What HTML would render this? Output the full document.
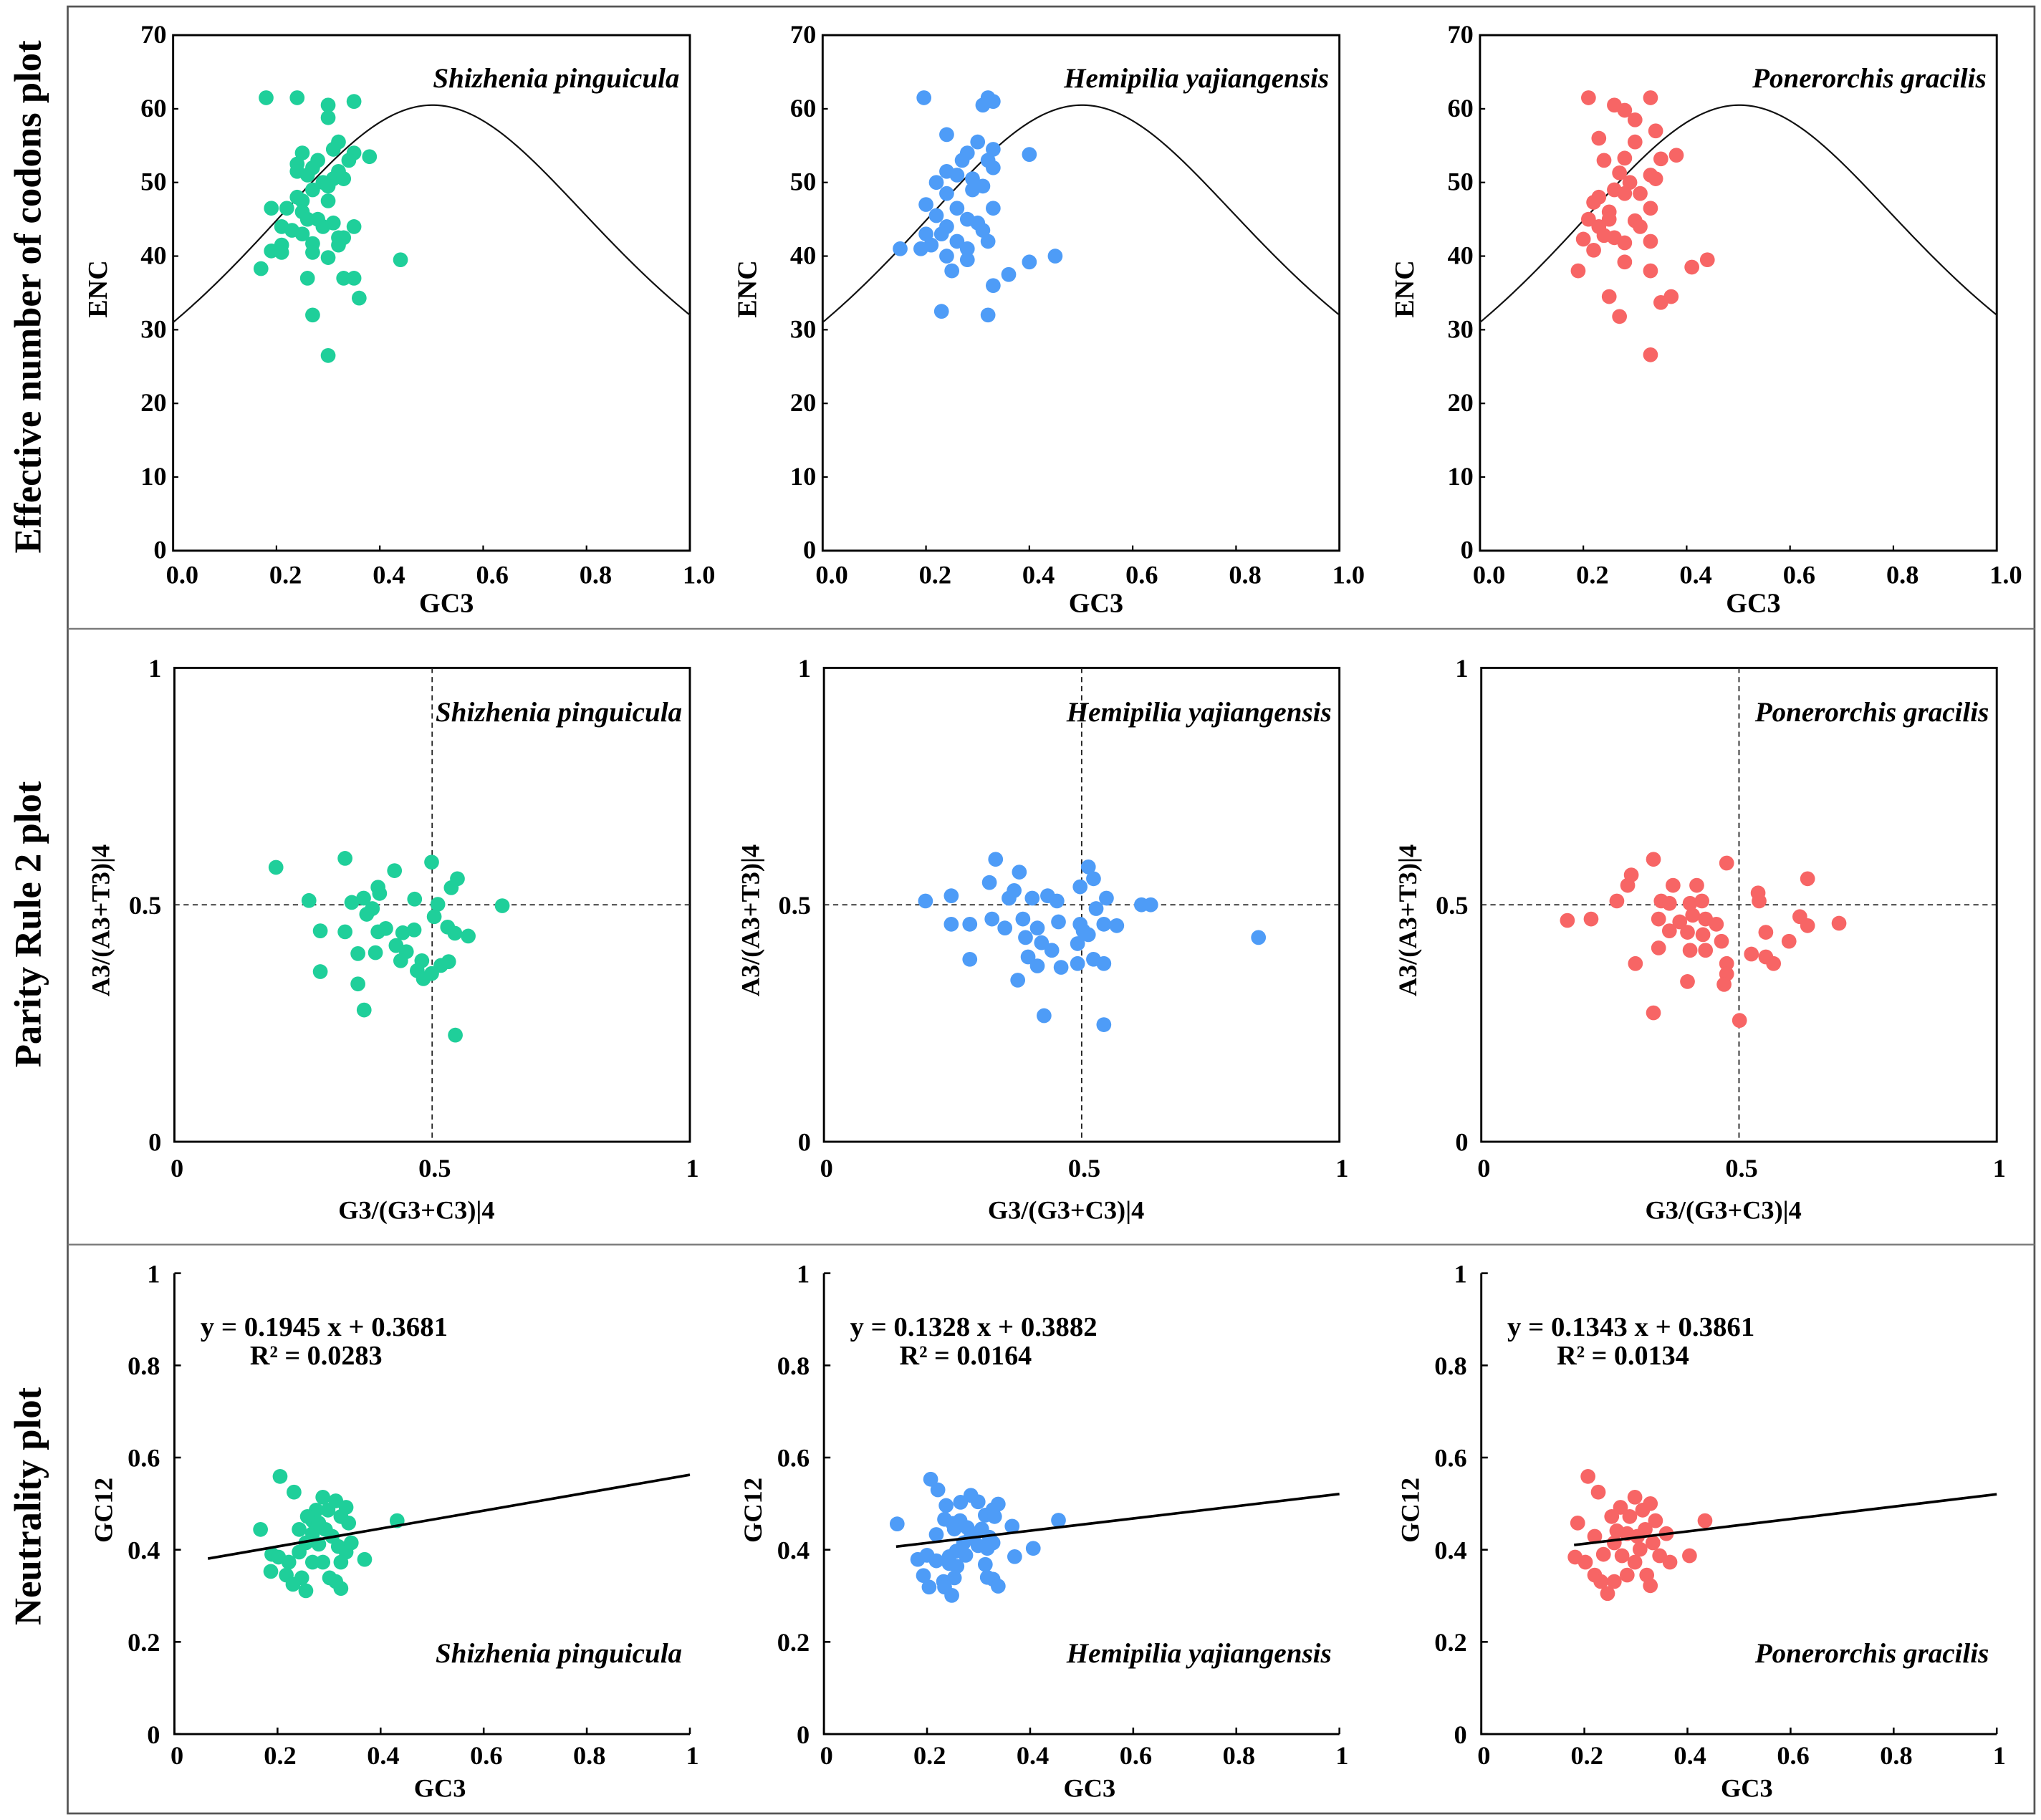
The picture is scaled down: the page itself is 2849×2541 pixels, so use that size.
<!DOCTYPE html>
<html><head><meta charset="utf-8">
<style>
html,body{margin:0;padding:0;background:#fff;}
svg{display:block;}
text{font-family:"Liberation Serif",serif;font-weight:bold;fill:#000;}
</style></head>
<body>
<svg id="chart" xmlns="http://www.w3.org/2000/svg" width="2849" height="2541" viewBox="0 0 1568 1398" preserveAspectRatio="none">
<rect x="52" y="5" width="1511" height="1388" fill="none" stroke="#555" stroke-width="1.5"/>
<line x1="52" y1="483" x2="1563" y2="483" stroke="#777" stroke-width="1.2"/>
<line x1="52" y1="956" x2="1563" y2="956" stroke="#777" stroke-width="1.2"/>
<text transform="translate(31,228) rotate(-90)" text-anchor="middle" font-size="29">Effective number of codons  plot</text>
<text transform="translate(31,710) rotate(-90)" text-anchor="middle" font-size="29">Parity Rule 2 plot</text>
<text transform="translate(31,1157) rotate(-90)" text-anchor="middle" font-size="29">Neutrality plot</text>
</svg>
<script>
// ---- data ----
const species = ["Shizhenia pinguicula","Hemipilia yajiangensis","Ponerorchis gracilis"];
const colors = ["#1fcf9a","#4e9cf7","#f76565"];
const encXTicks = ["0.0","0.2","0.4","0.6","0.8","1.0"];
const encYTicks = ["0","10","20","30","40","50","60","70"];
const pr2Ticks = ["0","0.5","1"];
const neuXTicks = ["0","0.2","0.4","0.6","0.8","1"];
const neuYTicks = ["0","0.2","0.4","0.6","0.8","1"];
const slopes = [0.1945,0.1328,0.1343];
const intercepts = [0.3681,0.3882,0.3861];
const r2 = ["0.0283","0.0164","0.0134"];
const lineStart = [0.065,0.14,0.18];

const encGreen = [[0.18,61.5],[0.24,61.5],[0.30,60.5],[0.35,61],[0.30,58.8],[0.32,55.5],[0.31,54.5],[0.25,54],[0.35,54],[0.38,53.5],[0.34,53],[0.28,53],[0.27,52],[0.24,52.5],[0.24,51.5],[0.32,51.5],[0.31,50.5],[0.33,50.5],[0.26,51],[0.29,50],[0.30,49.5],[0.27,49],[0.24,48],[0.25,47.5],[0.30,47.5],[0.19,46.5],[0.22,46.5],[0.25,46],[0.26,45],[0.28,45],[0.31,44.5],[0.35,44],[0.29,44],[0.21,44],[0.23,43.5],[0.25,43],[0.32,42.5],[0.33,42.5],[0.32,41.5],[0.27,41.7],[0.21,41.5],[0.19,40.7],[0.21,40.5],[0.27,40.5],[0.30,39.8],[0.44,39.5],[0.17,38.3],[0.26,37],[0.33,37],[0.35,37],[0.36,34.3],[0.27,32],[0.30,26.5]];
const encBlue = [[0.196,61.5],[0.32,61.5],[0.33,61],[0.31,60.5],[0.24,56.5],[0.30,55.5],[0.33,54.5],[0.28,54],[0.40,53.8],[0.27,53],[0.32,53],[0.33,52],[0.24,51.5],[0.26,51],[0.29,50.5],[0.22,50],[0.29,49],[0.31,49.5],[0.24,48.5],[0.20,47],[0.33,46.5],[0.26,46.5],[0.22,45.5],[0.28,45],[0.30,44.5],[0.24,44],[0.31,43.5],[0.20,43],[0.23,43],[0.26,42],[0.32,42],[0.21,41.5],[0.15,41],[0.19,41],[0.28,41],[0.24,40],[0.45,40],[0.28,39.5],[0.40,39.2],[0.25,38],[0.36,37.5],[0.33,36],[0.23,32.5],[0.32,32]];
const encRed = [[0.21,61.5],[0.33,61.5],[0.26,60.5],[0.28,59.8],[0.30,58.5],[0.34,57],[0.23,56],[0.30,55.5],[0.38,53.7],[0.24,53],[0.28,53.3],[0.35,53.2],[0.33,51],[0.27,51.3],[0.34,50.5],[0.29,50],[0.26,49],[0.23,48],[0.28,48.5],[0.22,47.3],[0.31,48.5],[0.33,46.5],[0.25,46],[0.21,45],[0.25,45],[0.30,44.8],[0.23,44],[0.31,44],[0.24,42.8],[0.26,42.5],[0.28,41.8],[0.33,42],[0.20,42.3],[0.22,40.8],[0.28,39.2],[0.44,39.5],[0.41,38.5],[0.19,38],[0.33,38],[0.25,34.5],[0.37,34.5],[0.35,33.7],[0.27,31.8],[0.33,26.6]];

const prGreen = [[0.197,0.579],[0.331,0.598],[0.499,0.590],[0.427,0.572],[0.549,0.555],[0.537,0.536],[0.395,0.537],[0.398,0.524],[0.367,0.514],[0.466,0.512],[0.261,0.509],[0.344,0.505],[0.511,0.501],[0.636,0.498],[0.384,0.492],[0.373,0.480],[0.504,0.475],[0.530,0.453],[0.544,0.440],[0.570,0.434],[0.283,0.445],[0.331,0.443],[0.395,0.443],[0.410,0.450],[0.443,0.441],[0.465,0.447],[0.430,0.414],[0.450,0.401],[0.356,0.397],[0.390,0.399],[0.439,0.382],[0.480,0.382],[0.471,0.361],[0.483,0.344],[0.499,0.355],[0.517,0.372],[0.532,0.380],[0.283,0.359],[0.356,0.333],[0.368,0.278],[0.545,0.225]];
const prBlue = [[0.197,0.508],[0.247,0.519],[0.333,0.596],[0.379,0.569],[0.321,0.547],[0.369,0.530],[0.359,0.514],[0.404,0.514],[0.434,0.519],[0.452,0.508],[0.513,0.580],[0.523,0.555],[0.497,0.538],[0.528,0.492],[0.548,0.514],[0.616,0.500],[0.634,0.500],[0.247,0.459],[0.283,0.459],[0.326,0.470],[0.351,0.451],[0.386,0.470],[0.414,0.451],[0.455,0.464],[0.497,0.459],[0.543,0.459],[0.568,0.456],[0.391,0.431],[0.422,0.420],[0.442,0.404],[0.492,0.418],[0.513,0.437],[0.283,0.385],[0.396,0.390],[0.414,0.371],[0.460,0.368],[0.492,0.376],[0.523,0.385],[0.543,0.376],[0.376,0.341],[0.427,0.266],[0.543,0.247],[0.843,0.431],[0.503,0.445]];
const prRed = [[0.167,0.467],[0.213,0.470],[0.284,0.541],[0.291,0.563],[0.263,0.508],[0.334,0.596],[0.349,0.508],[0.365,0.503],[0.405,0.503],[0.428,0.508],[0.372,0.541],[0.418,0.541],[0.476,0.588],[0.539,0.508],[0.537,0.525],[0.633,0.555],[0.344,0.470],[0.385,0.464],[0.410,0.478],[0.435,0.470],[0.456,0.459],[0.365,0.445],[0.400,0.442],[0.430,0.437],[0.466,0.423],[0.552,0.442],[0.618,0.475],[0.633,0.456],[0.694,0.461],[0.597,0.423],[0.567,0.376],[0.552,0.390],[0.524,0.396],[0.299,0.376],[0.344,0.409],[0.405,0.404],[0.435,0.404],[0.476,0.376],[0.476,0.354],[0.400,0.338],[0.471,0.332],[0.334,0.272],[0.501,0.256]];

const neuGreen = [[0.205,0.559],[0.232,0.525],[0.167,0.444],[0.189,0.390],[0.202,0.384],[0.187,0.353],[0.222,0.373],[0.217,0.345],[0.242,0.444],[0.255,0.415],[0.242,0.395],[0.247,0.339],[0.230,0.325],[0.255,0.311],[0.268,0.463],[0.275,0.486],[0.288,0.514],[0.298,0.486],[0.268,0.435],[0.280,0.412],[0.293,0.444],[0.306,0.429],[0.288,0.373],[0.301,0.339],[0.313,0.331],[0.323,0.316],[0.313,0.506],[0.323,0.472],[0.333,0.492],[0.338,0.458],[0.318,0.407],[0.333,0.395],[0.343,0.415],[0.369,0.379],[0.432,0.463],[0.268,0.373],[0.258,0.472],[0.323,0.373],[0.280,0.458]];
const neuBlue = [[0.142,0.456],[0.207,0.553],[0.221,0.530],[0.237,0.496],[0.234,0.466],[0.265,0.503],[0.285,0.518],[0.299,0.504],[0.338,0.499],[0.328,0.487],[0.313,0.475],[0.331,0.472],[0.365,0.451],[0.455,0.464],[0.218,0.433],[0.250,0.457],[0.264,0.463],[0.278,0.448],[0.292,0.433],[0.306,0.445],[0.321,0.427],[0.328,0.415],[0.299,0.409],[0.317,0.403],[0.271,0.415],[0.257,0.397],[0.275,0.388],[0.243,0.385],[0.406,0.403],[0.370,0.385],[0.182,0.379],[0.200,0.388],[0.218,0.376],[0.243,0.370],[0.258,0.364],[0.313,0.368],[0.193,0.344],[0.253,0.339],[0.232,0.331],[0.204,0.319],[0.234,0.319],[0.248,0.301],[0.317,0.340],[0.328,0.336],[0.338,0.321],[0.285,0.427],[0.253,0.445]];
const neuRed = [[0.207,0.559],[0.227,0.525],[0.187,0.458],[0.220,0.429],[0.182,0.384],[0.202,0.373],[0.220,0.345],[0.232,0.331],[0.245,0.305],[0.258,0.331],[0.237,0.390],[0.258,0.415],[0.253,0.472],[0.270,0.492],[0.288,0.472],[0.298,0.514],[0.313,0.486],[0.328,0.500],[0.338,0.463],[0.283,0.435],[0.303,0.429],[0.318,0.444],[0.333,0.415],[0.273,0.387],[0.298,0.373],[0.321,0.345],[0.328,0.322],[0.283,0.345],[0.359,0.435],[0.366,0.373],[0.404,0.387],[0.434,0.463],[0.346,0.387],[0.263,0.441],[0.308,0.401]];

const encSets = [encGreen, encBlue, encRed];
const prSets = [prGreen, prBlue, prRed];
const neuSets = [neuGreen, neuBlue, neuRed];

// ---- drawing ----
const NS = "http://www.w3.org/2000/svg";
const svg = document.getElementById('chart');
const colLeft = [133, 632, 1137];
const PW = 397;
const TF = 20, SF = 21.5, PR = 5.7;
function mk(tag, attrs, parent, txt){
  const e = document.createElementNS(NS, tag);
  for (const k in attrs) e.setAttribute(k, attrs[k]);
  if (txt !== undefined) e.textContent = txt;
  (parent||svg).appendChild(e);
  return e;
}
function makeScale(d0,d1,r0,r1){ return v => r0 + (v-d0)/(d1-d0)*(r1-r0); }

for (let c = 0; c < 3; c++) {
  const L = colLeft[c], R = L + PW;
  // ===== Row 1: ENC =====
  {
    const T = 27, B = 423;
    const sx = makeScale(0,1,L,R), sy = makeScale(0,70,B,T);
    const g = mk('g', {});
    
    
    const fr = mk('rect', {x:L, y:T, width:PW, height:B-T, fill:'none', stroke:'#000', 'stroke-width':1.6}, g);
    
    
    encYTicks.forEach(t => {
      const y = sy(+t);
      const tk = mk('line', {x1:L, x2:L+4, y1:y, y2:y, stroke:'#000', 'stroke-width':1.2}, g);
      
      
      const tl = mk('text', {x:L-5, y:y+6, 'text-anchor':'end', 'font-size':TF}, g, t);
      
      
    });
    encXTicks.forEach(t => {
      const x = sx(+t);
      const tk = mk('line', {x1:x, x2:x, y1:B, y2:B-4, stroke:'#000', 'stroke-width':1.2}, g);
      
      
      const tl = mk('text', {x:x+7, y:B+25, 'text-anchor':'middle', 'font-size':TF}, g, t);
      
      
    });
    const xt = mk('text', {x:L+210, y:B+47, 'text-anchor':'middle', 'font-size':21}, g, 'GC3');
    
    
    const yt = mk('text', {transform:`translate(${L-51},${T+195}) rotate(-90)`, 'text-anchor':'middle', 'font-size':21}, g, 'ENC');
    
    
    let d = '';
    for (let i = 0; i <= 200; i++) {
      const s = i/200;
      const enc = 2 + s + 29/(s*s + (1-s)*(1-s));
      d += (i ? 'L' : 'M') + sx(s).toFixed(2) + ',' + sy(enc).toFixed(2);
    }
    const cv = mk('path', {d, fill:'none', stroke:'#111', 'stroke-width':1.2}, g);
    
    
    encSets[c].forEach(p => {
      const pt = mk('circle', {cx:sx(p[0]), cy:sy(p[1]), r:PR, fill:colors[c]}, g);
      
      
    });
    const sp = mk('text', {x:R-8, y:T+40, 'text-anchor':'end', 'font-size':SF, 'font-style':'italic'}, g, species[c]);
    
    
  }
  // ===== Row 2: PR2 =====
  {
    const T = 513, B = 877, Lp = L+1;
    const sx = makeScale(0,1,Lp,Lp+396), sy = makeScale(0,1,B,T);
    const g = mk('g', {});
    
    
    const fr = mk('rect', {x:Lp, y:T, width:396, height:B-T, fill:'none', stroke:'#000', 'stroke-width':1.6}, g);
    
    
    const hl = mk('line', {x1:Lp, x2:Lp+396, y1:sy(0.5), y2:sy(0.5), stroke:'#222', 'stroke-width':1, 'stroke-dasharray':'4,3'}, g);
    
    
    const vl = mk('line', {x1:sx(0.5), x2:sx(0.5), y1:T, y2:B, stroke:'#222', 'stroke-width':1, 'stroke-dasharray':'4,3'}, g);
    
    
    pr2Ticks.forEach(t => {
      const y = sy(+t);
      const tl = mk('text', {x:Lp-10, y:y+7, 'text-anchor':'end', 'font-size':TF}, g, t);
      
      
      const x = sx(+t);
      const xl = mk('text', {x:x+2, y:B+27, 'text-anchor':'middle', 'font-size':TF}, g, t);
      
      
    });
    const xt = mk('text', {x:Lp+186, y:B+59, 'text-anchor':'middle', 'font-size':20}, g, 'G3/(G3+C3)|4');
    
    
    const yt = mk('text', {transform:`translate(${Lp-50},${T+194}) rotate(-90)`, 'text-anchor':'middle', 'font-size':20}, g, 'A3/(A3+T3)|4');
    
    
    prSets[c].forEach(p => {
      const pt = mk('circle', {cx:sx(p[0]), cy:sy(p[1]), r:PR, fill:colors[c]}, g);
      
      
    });
    const sp = mk('text', {x:Lp+390, y:T+41, 'text-anchor':'end', 'font-size':SF, 'font-style':'italic'}, g, species[c]);
    
    
  }
  // ===== Row 3: Neutrality =====
  {
    const T = 978, B = 1332, Lp = L+1;
    const sx = makeScale(0,1,Lp,Lp+396), sy = makeScale(0,1,B,T);
    const g = mk('g', {});
    
    
    const ax = mk('path', {d:`M${Lp},${T} L${Lp},${B} L${Lp+396},${B}`, fill:'none', stroke:'#000', 'stroke-width':1.6}, g);
    
    
    neuYTicks.forEach(t => {
      const y = sy(+t);
      const tk = mk('line', {x1:Lp, x2:Lp+5, y1:y, y2:y, stroke:'#000', 'stroke-width':1.4}, g);
      
      
      const tl = mk('text', {x:Lp-11, y:y+7, 'text-anchor':'end', 'font-size':TF}, g, t);
      
      
    });
    neuXTicks.forEach(t => {
      const x = sx(+t);
      const tk = mk('line', {x1:x, x2:x, y1:B, y2:B-5, stroke:'#000', 'stroke-width':1.4}, g);
      
      
      const tl = mk('text', {x:x+2, y:B+23, 'text-anchor':'middle', 'font-size':TF}, g, t);
      
      
    });
    const xt = mk('text', {x:Lp+204, y:B+48, 'text-anchor':'middle', 'font-size':20}, g, 'GC3');
    
    
    const yt = mk('text', {transform:`translate(${Lp-48},${T+182}) rotate(-90)`, 'text-anchor':'middle', 'font-size':20}, g, 'GC12');
    
    
    neuSets[c].forEach(p => {
      const pt = mk('circle', {cx:sx(p[0]), cy:sy(p[1]), r:PR, fill:colors[c]}, g);
      
      
    });
    const x0 = lineStart[c];
    const rl = mk('line', {x1:sx(x0), y1:sy(slopes[c]*x0+intercepts[c]), x2:sx(1), y2:sy(slopes[c]+intercepts[c]), stroke:'#000', 'stroke-width':2}, g);
    
    
    const eq = mk('text', {x:Lp+20, y:T+48, 'font-size':21, 'textLength':190, 'lengthAdjust':'spacingAndGlyphs'}, g, `y = ${slopes[c].toFixed(4)} x + ${intercepts[c].toFixed(4)}`);
    
    
    const rr = mk('text', {x:Lp+58, y:T+70, 'font-size':21}, g, `R² = ${r2[c]}`);
    
    
    const sp = mk('text', {x:Lp+390, y:T+299, 'text-anchor':'end', 'font-size':SF, 'font-style':'italic'}, g, species[c]);
    
    
  }
}
</script>
</body></html>
